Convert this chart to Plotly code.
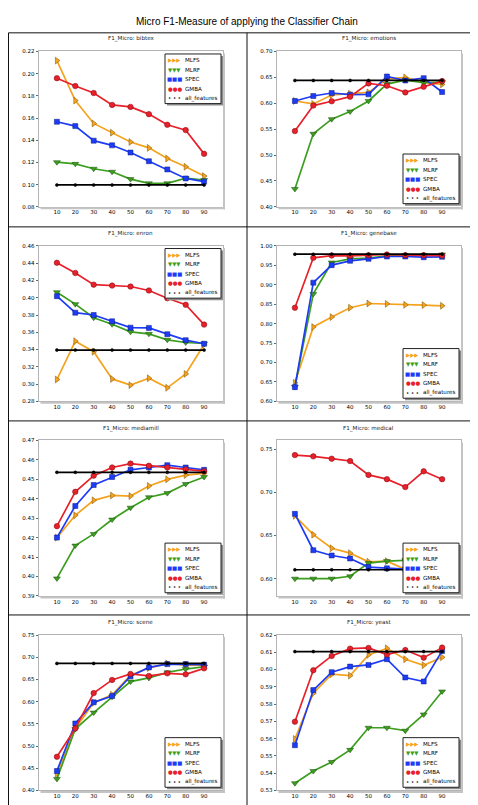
import plotly.graph_objects as go
from plotly.subplots import make_subplots

W, H = 478, 805

x_values = [10, 20, 30, 40, 50, 60, 70, 80, 90]
x_tick_labels = ["10", "20", "30", "40", "50", "60", "70", "80", "90"]
methods = ["MLFS", "MLRF", "SPEC", "GMBA", "all_features"]
datasets = ["bibtex", "emotions", "enron", "genebase", "mediamill", "medical", "scene", "yeast"]
main_title = "Micro F1-Measure of applying the Classifier Chain"

bibtex = {
    "MLFS": [0.2117, 0.1757, 0.1551, 0.1468, 0.1384, 0.1331, 0.1235, 0.1161, 0.1077],
    "MLRF": [0.1202, 0.1187, 0.1143, 0.1116, 0.1050, 0.1012, 0.1012, 0.1059, 0.1041],
    "SPEC": [0.1566, 0.1527, 0.1396, 0.1354, 0.1289, 0.1211, 0.1137, 0.1056, 0.1027],
    "GMBA": [0.1959, 0.1888, 0.1825, 0.1718, 0.1700, 0.1635, 0.1539, 0.1491, 0.1277],
    "all_features": [0.0997, 0.0997, 0.0997, 0.0997, 0.0997, 0.0997, 0.0997, 0.0997, 0.0997],
}
emotions = {
    "MLFS": [0.6043, 0.5986, 0.6158, 0.6184, 0.6209, 0.6465, 0.6497, 0.6401, 0.6363],
    "MLRF": [0.4345, 0.5411, 0.5692, 0.5839, 0.6043, 0.6369, 0.6446, 0.6395, 0.6407],
    "SPEC": [0.6043, 0.6139, 0.6197, 0.6165, 0.6171, 0.6516, 0.6439, 0.6484, 0.6216],
    "GMBA": [0.5462, 0.5954, 0.6037, 0.6126, 0.6382, 0.6337, 0.6209, 0.6318, 0.6427],
    "all_features": [0.6439, 0.6439, 0.6439, 0.6439, 0.6439, 0.6439, 0.6439, 0.6439, 0.6439],
}
enron = {
    "MLFS": [0.3053, 0.3497, 0.3375, 0.3060, 0.2988, 0.3068, 0.2957, 0.3118, 0.3459],
    "MLRF": [0.4064, 0.3926, 0.3769, 0.3693, 0.3605, 0.3582, 0.3513, 0.3482, 0.3470],
    "SPEC": [0.4018, 0.3827, 0.3800, 0.3727, 0.3654, 0.3651, 0.3578, 0.3509, 0.3467],
    "GMBA": [0.4405, 0.4287, 0.4152, 0.4141, 0.4130, 0.4084, 0.3995, 0.3919, 0.3689],
    "all_features": [0.3394, 0.3394, 0.3394, 0.3394, 0.3394, 0.3394, 0.3394, 0.3394, 0.3394],
}
genebase = {
    "MLFS": [0.6477, 0.7915, 0.8170, 0.8409, 0.8519, 0.8510, 0.8485, 0.8477, 0.8460],
    "MLRF": [0.6374, 0.8766, 0.9574, 0.9668, 0.9690, 0.9745, 0.9762, 0.9770, 0.9780],
    "SPEC": [0.6366, 0.9055, 0.9506, 0.9617, 0.9668, 0.9728, 0.9728, 0.9710, 0.9720],
    "GMBA": [0.8409, 0.9694, 0.9753, 0.9745, 0.9762, 0.9780, 0.9762, 0.9760, 0.9753],
    "all_features": [0.9787, 0.9787, 0.9787, 0.9787, 0.9787, 0.9787, 0.9787, 0.9787, 0.9787],
}
mediamill = {
    "MLFS": [0.4200, 0.4315, 0.4392, 0.4417, 0.4414, 0.4466, 0.4500, 0.4522, 0.4531],
    "MLRF": [0.3990, 0.4159, 0.4219, 0.4293, 0.4354, 0.4408, 0.4429, 0.4476, 0.4512],
    "SPEC": [0.4200, 0.4363, 0.4471, 0.4512, 0.4549, 0.4561, 0.4573, 0.4561, 0.4549],
    "GMBA": [0.4259, 0.4436, 0.4519, 0.4561, 0.4581, 0.4570, 0.4561, 0.4551, 0.4542],
    "all_features": [0.4536, 0.4536, 0.4536, 0.4536, 0.4536, 0.4536, 0.4536, 0.4536, 0.4536],
}
medical = {
    "MLFS": [0.6727, 0.6509, 0.6352, 0.6295, 0.6195, 0.6203, 0.6107, 0.6095, 0.6090],
    "MLRF": [0.6000, 0.6000, 0.6000, 0.6027, 0.6180, 0.6203, 0.6214, 0.6220, 0.6230],
    "SPEC": [0.6750, 0.6329, 0.6268, 0.6233, 0.6134, 0.6119, 0.6110, 0.6108, 0.6106],
    "GMBA": [0.7431, 0.7416, 0.7389, 0.7362, 0.7201, 0.7152, 0.7060, 0.7243, 0.7152],
    "all_features": [0.6103, 0.6103, 0.6103, 0.6103, 0.6103, 0.6103, 0.6103, 0.6103, 0.6103],
}
scene = {
    "MLFS": [0.4379, 0.5397, 0.5976, 0.6155, 0.6593, 0.6756, 0.6860, 0.6823, 0.6815],
    "MLRF": [0.4260, 0.5382, 0.5753, 0.6110, 0.6452, 0.6533, 0.6660, 0.6734, 0.6786],
    "SPEC": [0.4438, 0.5508, 0.5984, 0.6125, 0.6571, 0.6771, 0.6845, 0.6845, 0.6830],
    "GMBA": [0.4758, 0.5397, 0.6192, 0.6489, 0.6623, 0.6578, 0.6637, 0.6615, 0.6749],
    "all_features": [0.6860, 0.6860, 0.6860, 0.6860, 0.6860, 0.6860, 0.6860, 0.6860, 0.6860],
}
yeast = {
    "MLFS": [0.5598, 0.5863, 0.5973, 0.5965, 0.6085, 0.6123, 0.6060, 0.6025, 0.6071],
    "MLRF": [0.5342, 0.5412, 0.5465, 0.5535, 0.5663, 0.5663, 0.5646, 0.5740, 0.5873],
    "SPEC": [0.5562, 0.5881, 0.5985, 0.6017, 0.6027, 0.6060, 0.5954, 0.5931, 0.6108],
    "GMBA": [0.5698, 0.5996, 0.6079, 0.6121, 0.6125, 0.6087, 0.6113, 0.6069, 0.6127],
    "all_features": [0.6104, 0.6104, 0.6104, 0.6104, 0.6104, 0.6104, 0.6104, 0.6104, 0.6104],
}
panel_data = [bibtex, emotions, enron, genebase, mediamill, medical, scene, yeast]

y_ranges = [[0.08, 0.22], [0.40, 0.70], [0.28, 0.46], [0.60, 1.00],
             [0.39, 0.47], [0.58, 0.76], [0.40, 0.75], [0.53, 0.62]]
y_dticks = [0.02, 0.05, 0.02, 0.05, 0.01, 0.05, 0.05, 0.01]
y_tick0 = [0.08, 0.40, 0.28, 0.60, 0.39, 0.60, 0.40, 0.53]
legend_pos = ["upper", "lower", "upper", "lower", "lower", "lower", "lower", "lower"]

# styles
colors = {"MLFS": "#f5a21e", "MLRF": "#3c9e1e", "SPEC": "#1e3cf5", "GMBA": "#e8202a", "all_features": "#000000"}
edge = {"MLFS": "#7a5000", "MLRF": "#1b4d0c", "SPEC": "#0a1a80", "GMBA": "#7a0a10", "all_features": "#000000"}
symbols = {"MLFS": "triangle-right", "MLRF": "triangle-down", "SPEC": "square", "GMBA": "circle", "all_features": "circle"}
msize = {"MLFS": 6, "MLRF": 6, "SPEC": 5, "GMBA": 5.5, "all_features": 3}
glyphs = {"MLFS": "▶▶▶", "MLRF": "▼▼▼", "SPEC": "■■■", "GMBA": "●●●", "all_features": "• • •"}

FONT = "DejaVu Sans"

# geometry (pixels)
col_left = [30.5, 268.5]
plot_w = 184.0
row_top0 = 40.7
row_step = 196.0
plot_h = 156.6


def px(x):
    return x / W


def py(y):
    return 1 - y / H


fig = make_subplots(rows=4, cols=2, horizontal_spacing=0.05, vertical_spacing=0.03)
shapes = []
annotations = []

for i, name in enumerate(datasets):
    r, c = i // 2, i % 2
    data = panel_data[i]
    left = col_left[c]
    right = left + plot_w
    top = row_top0 + r * row_step
    bottom = top + plot_h

    for m in methods:
        fig.add_trace(go.Scatter(
            x=x_values, y=data[m], name=m, mode="lines+markers",
            showlegend=False,
            line=dict(color=colors[m], width=1.7),
            marker=dict(symbol=symbols[m], size=msize[m], color=colors[m],
                        line=dict(color=edge[m], width=0.5)),
        ), row=r + 1, col=c + 1)

    fig.update_xaxes(domain=[px(left), px(right)], range=[0, 100],
                     tickvals=x_values, ticktext=x_tick_labels,
                     showline=True, mirror=True, linecolor="#b4b4b4", linewidth=1,
                     ticks="", showgrid=False, zeroline=False,
                     tickfont=dict(family=FONT, size=5.5, color="#000"),
                     row=r + 1, col=c + 1)
    fig.update_yaxes(domain=[py(bottom), py(top)], range=y_ranges[i],
                     tick0=y_tick0[i], dtick=y_dticks[i], tickformat=".2f",
                     showline=True, mirror=True, linecolor="#b4b4b4", linewidth=1,
                     ticks="outside", ticklen=2, tickcolor="#666", tickwidth=0.8,
                     showgrid=False, zeroline=False,
                     tickfont=dict(family=FONT, size=5.5, color="#000"),
                     row=r + 1, col=c + 1)

    # axes shadow (right and bottom strips)
    shapes.append(dict(type="rect", xref="paper", yref="paper", layer="above",
                       x0=px(right + 0.5), x1=px(right + 2.5), y0=py(bottom + 2.5), y1=py(top + 2),
                       fillcolor="#c4c4c4", line=dict(width=0)))
    shapes.append(dict(type="rect", xref="paper", yref="paper", layer="above",
                       x0=px(left + 2), x1=px(right + 2.5), y0=py(bottom + 2.5), y1=py(bottom + 0.5),
                       fillcolor="#c4c4c4", line=dict(width=0)))

    # panel title
    annotations.append(dict(text="F1_Micro: " + name, xref="paper", yref="paper",
                            x=px((left + right) / 2), y=py(top - 12.5), showarrow=False,
                            xanchor="center", yanchor="middle",
                            font=dict(family=FONT, size=5.6, color="#222")))

    # legend box
    lx1 = right - 1.5
    lx0 = lx1 - 56
    if legend_pos[i] == "upper":
        ly0 = top + 2.6
    else:
        ly0 = bottom - 3.2 - 50
    ly1 = ly0 + 50
    shapes.append(dict(type="rect", xref="paper", yref="paper", layer="above",
                       x0=px(lx0 + 2), x1=px(lx1 + 2), y0=py(ly1 + 2), y1=py(ly0 + 2),
                       fillcolor="#8c8c8c", line=dict(width=0)))
    shapes.append(dict(type="rect", xref="paper", yref="paper", layer="above",
                       x0=px(lx0), x1=px(lx1), y0=py(ly1), y1=py(ly0),
                       fillcolor="#ffffff", line=dict(color="#222", width=1)))
    for k, m in enumerate(methods):
        yy = ly0 + 6.2 + 9.6 * k
        annotations.append(dict(text=glyphs[m], xref="paper", yref="paper",
                                x=px(lx0 + 9.6), y=py(yy), showarrow=False,
                                xanchor="center", yanchor="middle",
                                font=dict(family=FONT, size=5.4, color=colors[m])))
        annotations.append(dict(text=m, xref="paper", yref="paper",
                                x=px(lx0 + 17.8), y=py(yy), showarrow=False,
                                xanchor="left", yanchor="middle",
                                font=dict(family=FONT, size=5.6, color="#000")))

# outer frame and separators
frame_color = "#111"
for yline in [22, 217.5, 413, 608.5, 803.5]:
    shapes.append(dict(type="line", xref="paper", yref="paper", layer="above",
                       x0=px(0.5), x1=px(477.5), y0=py(yline), y1=py(yline),
                       line=dict(color=frame_color, width=1)))
for xline in [0.5, 239, 477.5]:
    shapes.append(dict(type="line", xref="paper", yref="paper", layer="above",
                       x0=px(xline), x1=px(xline), y0=py(22), y1=py(803.5),
                       line=dict(color=frame_color, width=1)))

annotations.append(dict(text=main_title, xref="paper", yref="paper",
                        x=px(239), y=py(10.8), showarrow=False,
                        xanchor="center", yanchor="middle",
                        font=dict(family="Liberation Sans", size=10, color="#000")))

fig.update_layout(
    width=W, height=H,
    margin=dict(l=0, r=0, t=0, b=0),
    paper_bgcolor="#ffffff", plot_bgcolor="#ffffff",
    showlegend=False,
    shapes=shapes, annotations=annotations,
)

fig.write_html("out.html")
